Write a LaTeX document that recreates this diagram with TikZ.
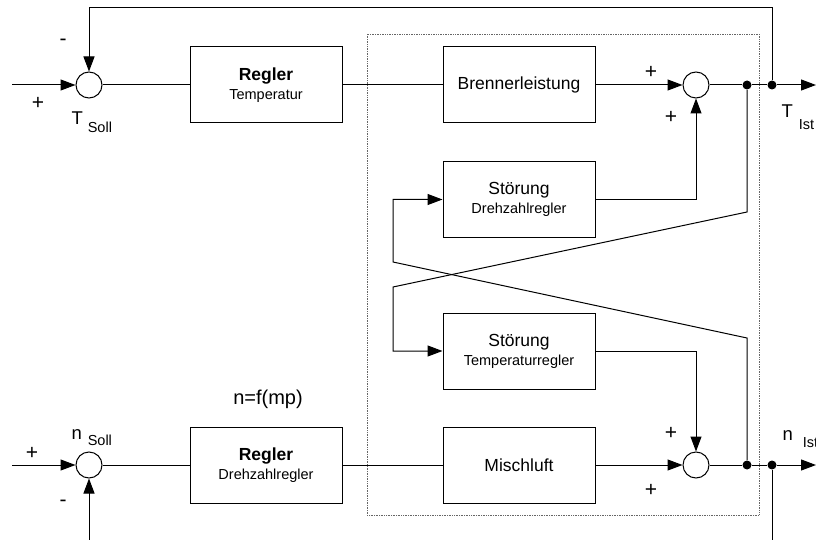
\documentclass[tikz,border=0pt]{standalone}
\usepackage{fontspec}
\setmainfont{Liberation Sans}
\usetikzlibrary{arrows.meta}

\newcommand{\subtxt}[1]{{\fontsize{14.5}{16}\selectfont #1}}

\tikzset{
  block/.style={draw, minimum width=152pt, minimum height=76pt, align=center,
    font=\fontsize{17.5}{19}\selectfont},
  sumpt/.style={draw, circle, minimum size=26pt, inner sep=0pt},
  junc/.style={circle, fill, minimum size=9pt, inner sep=0pt},
  sign/.style={font=\fontsize{21}{21}\selectfont, inner sep=0pt},
  varlbl/.style={anchor=base west, inner sep=0pt, font=\fontsize{18.5}{19}\selectfont},
}

\begin{document}
\begin{tikzpicture}[x=1pt, y=-1pt, line width=1pt, >={Triangle[length=15pt,width=11pt]}]
\useasboundingbox (0,0) rectangle (816,540);

% Regelstrecke
\draw[densely dotted, gray!80!black, line width=0.7pt] (367,34) rectangle (759,515);

% Temperatur
\node[sumpt] (sumTs) at (89,85) {};
\node[block] (regT) at (266,85) {\textbf{Regler}\\\subtxt{Temperatur}};
\node[block] (brenner) at (519,85) {Brennerleistung};
\node[sumpt] (sumTi) at (696,85) {};
\node[junc] (jTa) at (747,85) {};
\node[junc] (jTb) at (772,85) {};
\coordinate (inT) at (12,85);
\coordinate (outT) at (816,85);
\coordinate (fbT) at (89,8);

% Stoerungen
\node[block] (stD) at (519,199.5) {St\"orung\\\subtxt{Drehzahlregler}};
\node[block] (stT) at (519,351) {St\"orung\\\subtxt{Temperaturregler}};

% Drehzahl
\node[sumpt] (sumNs) at (89,465) {};
\node[block] (regN) at (266,465) {\textbf{Regler}\\\subtxt{Drehzahlregler}};
\node[block] (misch) at (519,465) {Mischluft};
\node[sumpt] (sumNi) at (696,465) {};
\node[junc] (jNa) at (747,465) {};
\node[junc] (jNb) at (772,465) {};
\coordinate (inN) at (12,465);
\coordinate (outN) at (816,465);
\coordinate (fbNin) at (89,540);
\coordinate (fbNout) at (772,540);

% Kreuzung
\coordinate (kTa) at (747,212);
\coordinate (kTb) at (393,287);
\coordinate (kNa) at (747,338);
\coordinate (kNb) at (393,262);

\draw[->] (inT) -- (sumTs);
\draw (sumTs) -- (regT);
\draw (regT) -- (brenner);
\draw[->] (brenner) -- (sumTi);
\draw (sumTi) -- (jTa) -- (jTb);
\draw[->] (jTb) -- (outT);
\draw[->] (jTb) |- (fbT) -- (sumTs);

\draw[->] (inN) -- (sumNs);
\draw (sumNs) -- (regN);
\draw (regN) -- (misch);
\draw[->] (misch) -- (sumNi);
\draw (sumNi) -- (jNa) -- (jNb);
\draw[->] (jNb) -- (outN);
\draw (jNb) -- (fbNout);
\draw[->] (fbNin) -- (sumNs);

\draw[->] (stD.east) -| (sumTi.south);
\draw[->] (stT.east) -| (sumNi.north);
\draw[->] (jTa) -- (kTa) -- (kTb) |- (stT.west);
\draw[->] (jNa) -- (kNa) -- (kNb) |- (stD.west);

% Vorzeichen
\node[sign] (mTs) at (63,42) {-};
\node[sign] (pTs) at (38,103) {+};
\node[sign] (pTa) at (651,72) {+};
\node[sign] (pTb) at (671,117) {+};
\node[sign] (pNs) at (32,453) {+};
\node[sign] (mNs) at (63,503) {-};
\node[sign] (pNa) at (671,433) {+};
\node[sign] (pNb) at (651,490) {+};

% Groessen
\node[varlbl] (lTs) at (71,125) {T\hspace{5pt}\raisebox{-8pt}{\subtxt{Soll}}};
\node[varlbl] (lTi) at (781,118) {T\hspace{6pt}\raisebox{-12pt}{\subtxt{Ist}}};
\node[varlbl] (lNs) at (71,439) {n\hspace{6pt}\raisebox{-6pt}{\subtxt{Soll}}};
\node[varlbl] (lNi) at (782,440) {n\hspace{10pt}\raisebox{-7pt}{\subtxt{Ist}}};
\node[font=\fontsize{20}{21}\selectfont] (fmp) at (268,399) {n=f(mp)};
\end{tikzpicture}
\end{document}
